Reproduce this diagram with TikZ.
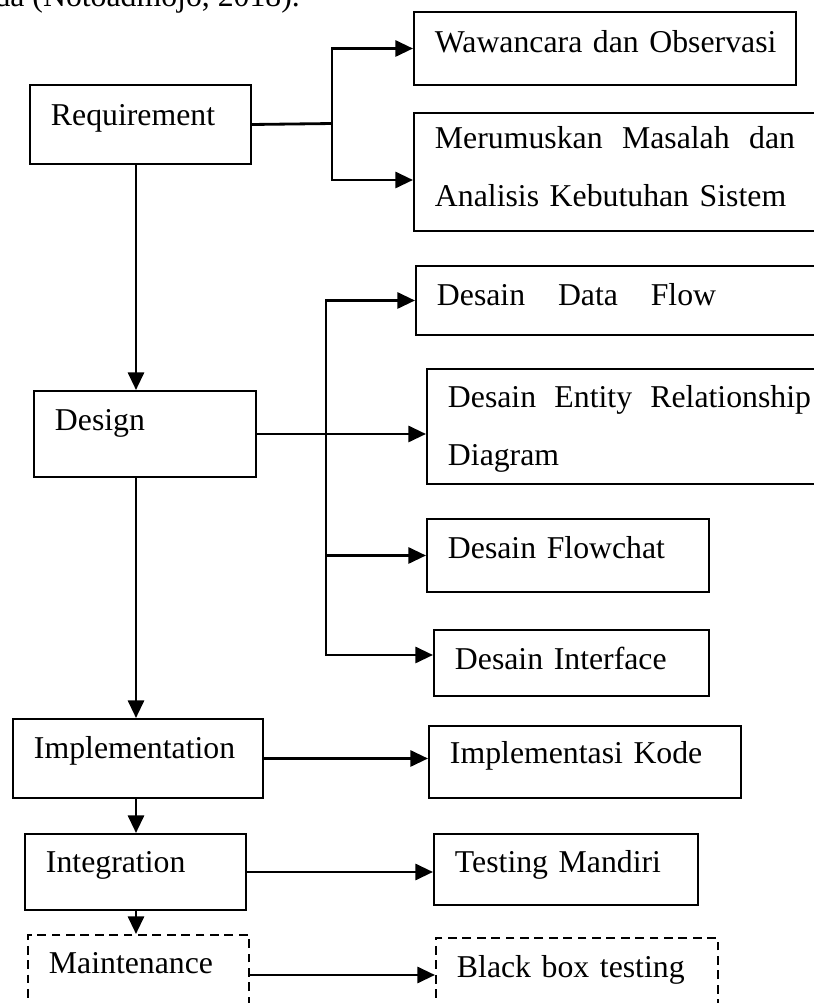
\documentclass[tikz,border=0pt]{standalone}
\usepackage{fontspec}
\setmainfont{Liberation Serif}
\usetikzlibrary{arrows.meta}

\begin{document}
\begin{tikzpicture}[x=0.125mm,y=-0.125mm,
  font=\fontsize{11.3}{20.5}\selectfont,
  box/.style={draw,line width=0.7pt,anchor=north west,align=left,inner xsep=2.625mm,inner ysep=0pt},
  dbox/.style={box,dash pattern=on 1.1mm off 0.7mm},
  arr/.style={line width=1pt,-{Triangle[length=2.2mm,width=2mm]}}]
\path[use as bounding box] (0,0) rectangle (814,1003);
\node[anchor=base west,inner sep=0pt] (cite) at (-6,6) {da (Notoadmojo, 2018).};
% left column
\node[box,text width=22.375mm,text height=5.125mm,text depth=4.75mm] (req) at (29,84) {Requirement};
\node[box,text width=22.5mm,text height=5mm,text depth=5.75mm] (dsg) at (33,390) {Design};
\node[box,text width=26mm,text height=5mm,text depth=4.875mm] (imp) at (12,718) {Implementation};
\node[box,text width=22.375mm,text height=4.875mm,text depth=4.625mm] (itg) at (24,833) {Integration};
\node[dbox,text width=22.375mm,text height=4.875mm,text depth=5.125mm] (mnt) at (27,934) {Maintenance};
% right column
\node[box,text width=42.5mm,text height=5.125mm,text depth=4mm] (wwc) at (413,11) {\mbox{Wawancara dan Observasi}};
\node[box,text width=45mm,text height=4.5mm,text depth=10.25mm] (mrm) at (413,112) {Merumuskan\hfill Masalah\hfill dan\\Analisis Kebutuhan Sistem};
\node[box,text width=45.375mm,text height=5mm,text depth=3.625mm] (dfl) at (415,265) {Desain\hspace{4.1mm}Data\hspace{4.1mm}Flow};
\node[box,text width=45.375mm,text height=4.875mm,text depth=9.5mm] (erd) at (426,368) {Desain\hfill Entity\hfill Relationship\\Diagram};
\node[box,text width=30mm,text height=5mm,text depth=4.125mm] (flc) at (426,518) {Desain Flowchat};
\node[box,text width=29.125mm,text height=5mm,text depth=3.25mm] (ifc) at (433,629) {Desain Interface};
\node[box,text width=33.75mm,text height=4.75mm,text depth=4.25mm] (ikd) at (428,725) {Implementasi Kode};
\node[box,text width=27.75mm,text height=4.875mm,text depth=4mm] (tmd) at (433,833) {Testing Mandiri};
\node[dbox,text width=30mm,text height=5mm,text depth=4.5mm] (bbt) at (435,937) {Black box testing};
% junctions
\coordinate (sp) at (136,0);
\coordinate (rj) at (332,123.5);
\coordinate (dj) at (326,433);
% requirement branches
\draw[line width=1pt] (req.east) -- (rj);
\draw[arr] (rj) |- (wwc.west);
\draw[arr] (rj) |- ([yshift=-1mm]mrm.west);
% design branches
\draw[arr] (dsg.east) -- (dsg.east -| erd.west);
\draw[arr] (dj) |- (dfl.west);
\draw[arr] (dj) |- (flc.west);
\draw[arr] (dj) |- ([yshift=1mm]ifc.west);
% main flow
\draw[arr] (req.south -| sp) -- (dsg.north -| sp);
\draw[arr] (dsg.south -| sp) -- (imp.north -| sp);
\draw[arr] (imp.south -| sp) -- (itg.north -| sp);
\draw[arr] (itg.south -| sp) -- (mnt.north -| sp);
\draw[arr] (imp.east) -- (imp.east -| ikd.west);
\draw[arr] (itg.east) -- (itg.east -| tmd.west);
\draw[arr] (mnt.east) -- (mnt.east -| bbt.west);
\end{tikzpicture}
\end{document}
